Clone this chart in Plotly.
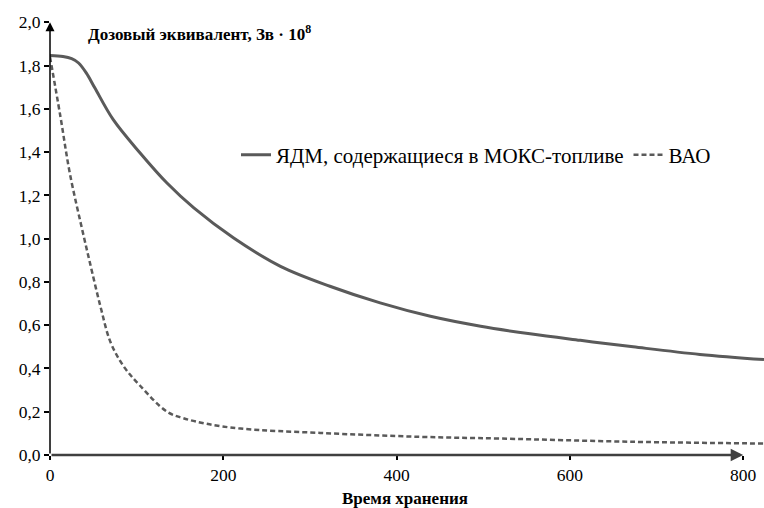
import plotly.graph_objects as go

# Storage time values and dose equivalent (Sv * 10^8)
x_mox = [0, 15, 25, 33, 42, 52, 73, 104, 135, 166, 212, 266, 323, 381, 439, 497, 554, 612, 673, 750, 824]
y_mox = [1.847, 1.842, 1.832, 1.812, 1.765, 1.695, 1.55, 1.396, 1.257, 1.142, 1.003, 0.872, 0.780,
         0.703, 0.641, 0.595, 0.560, 0.530, 0.500, 0.465, 0.441]

x_vao = [0, 12, 23, 39, 46, 58, 70, 85, 104, 135, 154, 181, 220, 312, 427, 520, 673, 824]
y_vao = [1.84, 1.565, 1.30, 1.01, 0.89, 0.69, 0.52, 0.41, 0.32, 0.20, 0.17, 0.144, 0.122,
         0.102, 0.084, 0.076, 0.061, 0.053]

name_mox = "ЯДМ, содержащиеся в МОКС-топливе"
name_vao = "ВАО"
x_ticks = [0, 200, 400, 600, 800]
y_ticks = [0.0, 0.2, 0.4, 0.6, 0.8, 1.0, 1.2, 1.4, 1.6, 1.8, 2.0]
y_title = "<b>Дозовый эквивалент, Зв · 10<sup>8</sup></b>"
x_title = "<b>Время хранения</b>"

SERIF = "Times New Roman, Liberation Serif, serif"
GRAY = "#5a5a5a"

pw, ph = 764 - 50, 508 - 18 - 53

fig = go.Figure()
fig.add_trace(go.Scatter(x=x_mox, y=y_mox, mode="lines", name=name_mox,
                         line=dict(color=GRAY, width=3, shape="spline", smoothing=1.0)))
fig.add_trace(go.Scatter(x=x_vao, y=y_vao, mode="lines", name=name_vao,
                         line=dict(color=GRAY, width=2.5, dash="5px,3px", shape="spline", smoothing=1.0)))

fig.update_layout(
    width=764, height=508,
    margin=dict(l=50, r=0, t=18, b=53, autoexpand=False),
    paper_bgcolor="white", plot_bgcolor="white",
    separators=",.",
    font=dict(family=SERIF, color="black"),
    showlegend=True,
    legend=dict(orientation="h", x=(236 - 50) / pw, y=(508 - 53 - 155) / ph,
                xanchor="left", yanchor="middle",
                font=dict(family=SERIF, size=21, color="black"),
                bgcolor="rgba(0,0,0,0)", tracegroupgap=0),
    xaxis=dict(range=[0, 824], tickvals=x_ticks, ticks="outside", ticklen=4, tickwidth=1.5,
               tickcolor="black", showline=False, showgrid=False, zeroline=False, automargin=False,
               tickfont=dict(family=SERIF, size=17.5, color="black")),
    yaxis=dict(range=[0, 2.02], tickvals=y_ticks, tickformat=".1f", ticks="outside", ticklen=5,
               tickwidth=1.5, tickcolor="black", showline=False, showgrid=False, zeroline=False,
               automargin=False, tickfont=dict(family=SERIF, size=17.5, color="black")),
    annotations=[
        dict(x=800, y=0, ax=0, ay=0, xref="x", yref="y", axref="x", ayref="y", text="",
             showarrow=True, arrowhead=2, arrowsize=1, arrowwidth=2.5, arrowcolor="#404040"),
        dict(x=0, y=2.0, ax=0, ay=0, xref="x", yref="y", axref="x", ayref="y", text="",
             showarrow=True, arrowhead=2, arrowsize=1.2, arrowwidth=1.5, arrowcolor="black"),
        dict(x=(86 - 50) / pw, y=(508 - 53 - 33) / ph, xref="paper", yref="paper", text=y_title,
             showarrow=False, font=dict(family=SERIF, size=17, color="black"),
             xanchor="left", yanchor="middle"),
        dict(x=(405 - 50) / pw, y=(508 - 53 - 499) / ph, text=x_title, showarrow=False,
             xref="paper", yref="paper", font=dict(family=SERIF, size=17, color="black"),
             xanchor="center", yanchor="middle"),
    ],
)

fig.write_html("out.html", config={"displayModeBar": False},
               post_script="document.body.style.margin='0';")
